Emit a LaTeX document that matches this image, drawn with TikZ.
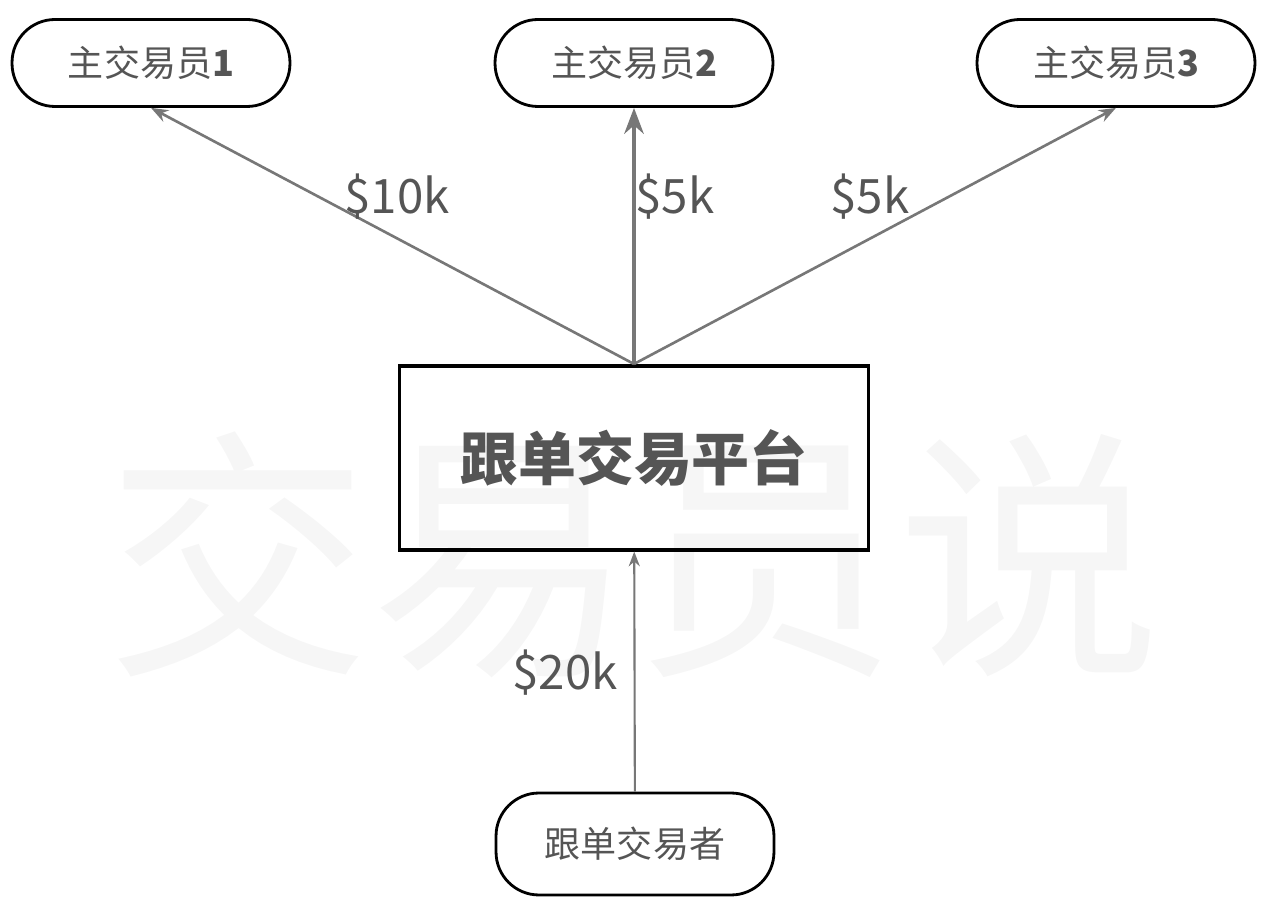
\documentclass[tikz,border=0pt]{standalone}
\usepackage{fontspec}
\setmainfont{Noto Sans CJK SC}
\usetikzlibrary{positioning, arrows.meta}
\definecolor{linegray}{HTML}{777777}
\definecolor{textgray}{HTML}{555555}
\definecolor{markgray}{HTML}{F6F6F6}

\begin{document}
\begin{tikzpicture}[x=0.02cm, y=-0.02cm, >=Stealth]
            \tikzset{
                trader/.style={
                        draw, line width=1.6pt, rounded corners=0.86cm,
                        minimum width=5.56cm, minimum height=1.74cm,
                        text=textgray, font=\fontsize{20.5}{24}\selectfont
                    },
                amount/.style={text=textgray, font=\fontsize{27}{31}\selectfont}
            }
            \useasboundingbox (0,0) rectangle (1269,908);

            % Watermark
            \node[text=markgray, font=\fontsize{150}{160}\selectfont] (mark) at (634,555) {交易员说};

            % Nodes
            \node[trader] (t1) at (151,63) {主交易员\textbf{1}};
            \node[trader] (t2) at (634,63) {主交易员\textbf{2}};
            \node[trader] (t3) at (1116,63) {主交易员\textbf{3}};
            \node[draw, line width=1.8pt, minimum width=9.38cm, minimum height=3.68cm,
                  text=textgray, font=\fontsize{33}{38}\selectfont\bfseries] (platform) at (634,458) {跟单交易平台};
            \node[trader, minimum height=2.04cm] (follower) at (635,844) {跟单交易者};
            \coordinate (top) at (634,364);

            % Flows
            \draw[->, linegray, line width=1.5pt] (top) -- (t1.south);
            \draw[->, linegray, line width=2.6pt] (top) -- (t2.south);
            \draw[->, linegray, line width=1.5pt] (top) -- (t3.south);
            \draw[->, linegray, line width=1.2pt] (follower) -- (platform);

            % Amounts
            \node[amount] (a1) at (397,197) {\$10k};
            \node[amount] (a2) at (675,197) {\$5k};
            \node[amount] (a3) at (870,197) {\$5k};
            \node[amount] (a4) at (565,673) {\$20k};
        \end{tikzpicture}
\end{document}
